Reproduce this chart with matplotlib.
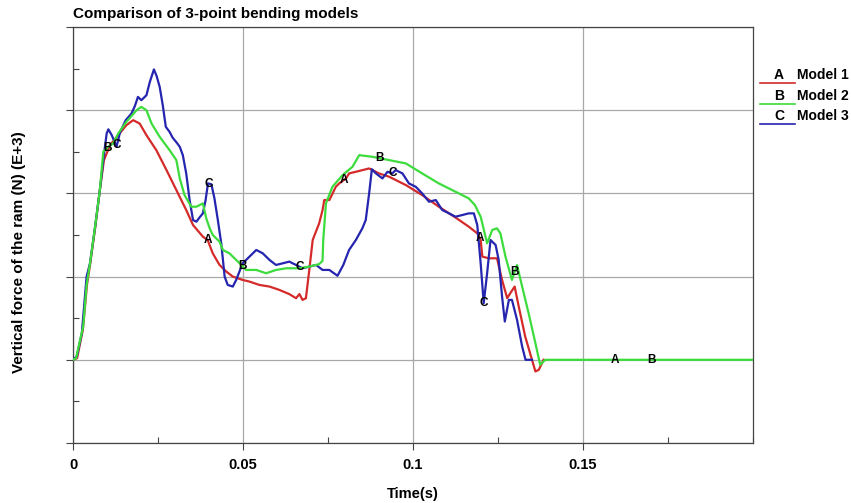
import numpy as np
import matplotlib.pyplot as plt
from matplotlib.ticker import MultipleLocator, NullFormatter
from matplotlib.lines import Line2D

plt.rcParams['font.family'] = ['Liberation Sans', 'DejaVu Sans']
plt.rcParams['font.weight'] = 'bold'

# -------------------------------
# Data (time in s, force in arbitrary E+3 units)
# -------------------------------
t_model1 = [0, 0.0012, 0.0029, 0.0041, 0.0050, 0.0065, 0.0079, 0.0091, 0.0109, 0.0129,
            0.0157, 0.0177, 0.0196, 0.0216, 0.0245, 0.0275, 0.0304, 0.0333, 0.0353, 0.0382,
            0.0396, 0.0411, 0.0431, 0.0451, 0.0470, 0.0499, 0.0519, 0.0548, 0.0578, 0.0607,
            0.0636, 0.0656, 0.0666, 0.0675, 0.0685, 0.0695, 0.0705, 0.0724, 0.0734, 0.0739,
            0.0754, 0.0773, 0.0783, 0.0803, 0.0812, 0.0842, 0.0871, 0.0900, 0.0930, 0.0979,
            0.1027, 0.1076, 0.1125, 0.1164, 0.1189, 0.1199, 0.1204, 0.1223, 0.1247, 0.1262,
            0.1277, 0.1286, 0.1299, 0.1311, 0.1330, 0.1350, 0.1360, 0.1370, 0.1384]
f_model1 = [0, 0.02, 0.36, 0.90, 1.14, 1.58, 2.04, 2.40, 2.58, 2.68,
            2.82, 2.88, 2.84, 2.70, 2.52, 2.28, 2.04, 1.80, 1.62, 1.48,
            1.44, 1.28, 1.14, 1.06, 1.00, 0.96, 0.94, 0.90, 0.88, 0.84,
            0.79, 0.74, 0.79, 0.72, 0.74, 1.08, 1.44, 1.64, 1.80, 1.92,
            1.92, 2.08, 2.12, 2.18, 2.24, 2.27, 2.30, 2.24, 2.20, 2.10,
            1.98, 1.84, 1.71, 1.60, 1.52, 1.44, 1.24, 1.22, 1.22, 0.96,
            0.74, 0.80, 0.88, 0.64, 0.28, 0.00, -0.14, -0.12, 0]

t_model2 = [0, 0.0009, 0.0021, 0.0030, 0.0040, 0.0050, 0.0065, 0.0079, 0.0089, 0.0103,
            0.0118, 0.0133, 0.0157, 0.0170, 0.0187, 0.0201, 0.0216, 0.0231, 0.0255, 0.0284,
            0.0304, 0.0314, 0.0328, 0.0348, 0.0363, 0.0382, 0.0392, 0.0402, 0.0411, 0.0421,
            0.0431, 0.0441, 0.0460, 0.0490, 0.0509, 0.0539, 0.0568, 0.0597, 0.0627, 0.0666,
            0.0695, 0.0724, 0.0734, 0.0736, 0.0744, 0.0763, 0.0793, 0.0822, 0.0842, 0.0861,
            0.0881, 0.0930, 0.0979, 0.1027, 0.1076, 0.1125, 0.1164, 0.1182, 0.1199, 0.1218,
            0.1233, 0.1247, 0.1257, 0.1272, 0.1291, 0.1306, 0.1321, 0.1340, 0.1360, 0.1374,
            0.1389, 0.2]
f_model2 = [0, 0.02, 0.24, 0.40, 0.90, 1.16, 1.60, 2.04, 2.50, 2.56,
            2.60, 2.72, 2.86, 2.92, 3.00, 3.04, 3.00, 2.84, 2.68, 2.52,
            2.40, 2.18, 1.98, 1.84, 1.84, 1.88, 1.70, 1.58, 1.50, 1.46,
            1.42, 1.32, 1.28, 1.16, 1.08, 1.08, 1.04, 1.08, 1.10, 1.10,
            1.12, 1.15, 1.19, 1.44, 1.88, 2.08, 2.22, 2.32, 2.46, 2.45,
            2.44, 2.40, 2.36, 2.24, 2.12, 2.02, 1.94, 1.86, 1.72, 1.40,
            1.56, 1.58, 1.52, 1.24, 0.96, 1.14, 0.88, 0.56, 0.20, -0.06,
            0, 0]

t_model3 = [0, 0.0011, 0.0026, 0.0040, 0.0050, 0.0065, 0.0079, 0.0089, 0.0099, 0.0104,
            0.0114, 0.0128, 0.0138, 0.0155, 0.0172, 0.0182, 0.0191, 0.0201, 0.0216, 0.0226,
            0.0238, 0.0246, 0.0255, 0.0264, 0.0273, 0.0284, 0.0293, 0.0305, 0.0314, 0.0323,
            0.0333, 0.0343, 0.0353, 0.0363, 0.0372, 0.0382, 0.0390, 0.0397, 0.0407, 0.0416,
            0.0426, 0.0436, 0.0446, 0.0455, 0.0470, 0.0480, 0.0499, 0.0519, 0.0539, 0.0558,
            0.0578, 0.0597, 0.0617, 0.0636, 0.0656, 0.0675, 0.0695, 0.0715, 0.0734, 0.0754,
            0.0778, 0.0795, 0.0812, 0.0832, 0.0851, 0.0861, 0.0871, 0.0879, 0.0891, 0.0910,
            0.0925, 0.0939, 0.0949, 0.0969, 0.0988, 0.1008, 0.1027, 0.1047, 0.1067, 0.1086,
            0.1106, 0.1125, 0.1145, 0.1164, 0.1179, 0.1189, 0.1199, 0.1208, 0.1218, 0.1228,
            0.1243, 0.1252, 0.1262, 0.1270, 0.1282, 0.1291, 0.1306, 0.1321, 0.1331, 0.1350]
f_model3 = [0, 0.04, 0.32, 1.00, 1.16, 1.60, 2.04, 2.40, 2.72, 2.77,
            2.70, 2.56, 2.73, 2.88, 2.96, 3.05, 3.16, 3.12, 3.18, 3.34,
            3.49, 3.41, 3.28, 3.06, 2.80, 2.74, 2.67, 2.61, 2.56, 2.46,
            2.24, 1.92, 1.68, 1.66, 1.71, 1.76, 1.92, 2.12, 2.11, 1.94,
            1.68, 1.40, 1.00, 0.90, 0.88, 0.96, 1.16, 1.24, 1.32, 1.28,
            1.20, 1.14, 1.16, 1.18, 1.14, 1.10, 1.12, 1.14, 1.08, 1.08,
            1.01, 1.14, 1.32, 1.44, 1.58, 1.68, 2.00, 2.29, 2.24, 2.18,
            2.26, 2.24, 2.28, 2.24, 2.12, 2.08, 2.00, 1.90, 1.92, 1.80,
            1.76, 1.72, 1.74, 1.76, 1.76, 1.62, 1.16, 0.68, 1.04, 1.44,
            1.38, 1.20, 0.76, 0.46, 0.72, 0.72, 0.48, 0.16, 0.00, 0.00]

# letter markers along each curve (times)
marks_model1 = [0.0396, 0.0798, 0.1196, 0.1595]
marks_model2 = [0.0100, 0.0499, 0.0900, 0.1299, 0.1700]
marks_model3 = [0.0129, 0.0399, 0.0666, 0.0941, 0.1208]

labels = ['Model 1', 'Model 2', 'Model 3']
letters = ['A', 'B', 'C']
colors = ['#d42a2a', '#3ddc3d', '#2525b0']

x_ticks = [0, 0.05, 0.1, 0.15]
x_ticklabels = ['0', '0.05', '0.1', '0.15']

# -------------------------------
# Plot
# -------------------------------
fig = plt.figure(figsize=(8.51, 5.03), dpi=100)
ax = fig.add_axes([73 / 851, 1 - 443 / 503, 680 / 851, 416 / 503])

series = [(t_model1, f_model1, marks_model1),
          (t_model2, f_model2, marks_model2),
          (t_model3, f_model3, marks_model3)]
zorders = [3, 5, 4]
for i, (t, f, marks) in enumerate(series):
    ax.plot(t, f, color=colors[i], lw=1.6, zorder=zorders[i])
    for tm in marks:
        ax.text(tm, np.interp(tm, t, f), letters[i], fontsize=8.5, fontweight='bold',
                ha='center', va='center', zorder=6)

ax.set_xlim(0, 0.2)
ax.set_ylim(-1, 4)
ax.set_xticks(x_ticks)
ax.set_xticklabels(x_ticklabels)
ax.xaxis.set_minor_locator(MultipleLocator(0.025))
ax.yaxis.set_major_locator(MultipleLocator(1))
ax.yaxis.set_minor_locator(MultipleLocator(0.5))
ax.yaxis.set_major_formatter(NullFormatter())
ax.tick_params(which='major', direction='out', length=5, width=0.8, color='#444444',
               labelsize=10.5, pad=6)
ax.tick_params(which='minor', direction='in', length=4.5, width=0.8, color='#444444')
ax.grid(True, which='major', color='#a8a8a8', lw=0.9)
for s in ax.spines.values():
    s.set_color('#444444')
    s.set_linewidth(0.9)

fig.text(73 / 851, 1 - 18 / 503, 'Comparison of 3-point bending models', fontsize=11,
         fontweight='bold', ha='left', va='baseline')
fig.text(19 / 851, 1 - 252 / 503, 'Vertical force of the ram (N) (E+3)', fontsize=11,
         fontweight='bold', rotation=90, ha='center', va='center')
fig.text(413 / 851, 1 - 494 / 503, 'Time(s)', fontsize=10.5, fontweight='bold',
         ha='center', va='center')

# legend drawn by hand to the right of the axes
for i, lab in enumerate(labels):
    yl = 1 - (83 + 20.5 * i) / 503
    fig.add_artist(Line2D([760 / 851, 795 / 851], [yl, yl], color=colors[i], lw=1.2,
                          transform=fig.transFigure))
    fig.text(779 / 851, yl + 1 / 503, letters[i], fontsize=10, fontweight='bold',
             ha='center', va='bottom')
    fig.text(797 / 851, yl + 1 / 503, lab, fontsize=10, fontweight='bold',
             ha='left', va='bottom')

plt.savefig('out.png', dpi=100)
